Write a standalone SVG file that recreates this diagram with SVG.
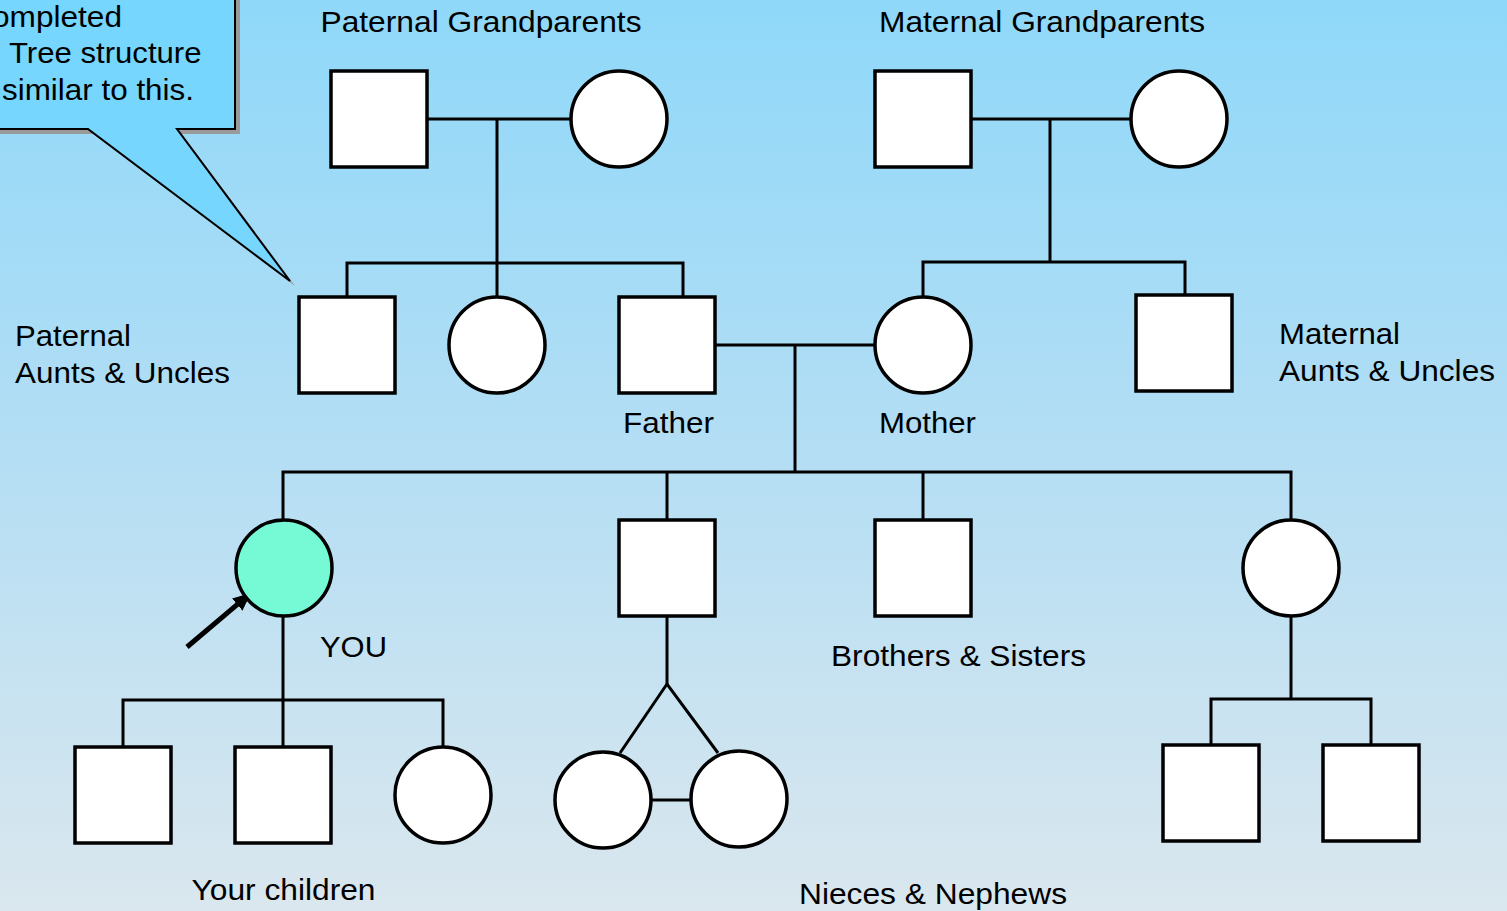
<svg xmlns="http://www.w3.org/2000/svg" width="1507" height="911" viewBox="0 0 1507 911">
<defs>
<linearGradient id="bg" x1="0" y1="0" x2="0" y2="1">
<stop offset="0" stop-color="#8fd8f9"/>
<stop offset="0.5" stop-color="#b4def4"/>
<stop offset="1" stop-color="#dae7ee"/>
</linearGradient>
<marker id="ah" viewBox="0 0 18 16" markerWidth="18" markerHeight="16" markerUnits="userSpaceOnUse" refX="3" refY="8" orient="auto">
<path d="M0,0 L18,8 L0,16 Z" fill="#000"/>
</marker>
<style>
.sq{fill:#fff;stroke:#000;stroke-width:3.5}
.ci{fill:#fff;stroke:#000;stroke-width:3.5}
.you{fill:#76fad5;stroke:#000;stroke-width:3.5}
.ln{fill:none;stroke:#000;stroke-width:3}
.t{font-family:"Liberation Sans",Arial,sans-serif;font-size:30px;fill:#000}
</style>
</defs>
<rect x="0" y="0" width="1507" height="911" fill="url(#bg)"/>

<g id="callout">
<path d="M-10,-10 H235 V129 H177 L290,281 L88,129 H-10 Z" fill="#9a9a9a" transform="translate(5,5)"/>
<path d="M-10,-10 H235 V129 H177 L290,281 L88,129 H-10 Z" fill="#76d6fe" stroke="#000" stroke-width="2"/>
<text class="t" x="-8" y="27" textLength="130" lengthAdjust="spacingAndGlyphs">ompleted</text>
<text class="t" x="9" y="63" textLength="192.5" lengthAdjust="spacingAndGlyphs">Tree structure</text>
<text class="t" x="2" y="100" textLength="192" lengthAdjust="spacingAndGlyphs">similar to this.</text>
</g>

<g id="connectors">
<path class="ln" d="M427,119 H571"/>
<path class="ln" d="M497,119 V297"/>
<path class="ln" d="M347,297 V263 H683 V297"/>
<path class="ln" d="M971,119 H1131"/>
<path class="ln" d="M1050,119 V262"/>
<path class="ln" d="M923,297 V262 H1185 V295"/>
<path class="ln" d="M715,345 H875"/>
<path class="ln" d="M795,345 V472"/>
<path class="ln" d="M283,520 V472 H1291 V520"/>
<path class="ln" d="M667,472 V520"/>
<path class="ln" d="M923,472 V520"/>
<path class="ln" d="M283,616 V747"/>
<path class="ln" d="M123,747 V700 H443 V747"/>
<path class="ln" d="M667,616 V684"/>
<path class="ln" d="M620,753 L667,684 L718,753"/>
<path class="ln" d="M651,800 H691"/>
<path class="ln" d="M1291,616 V699"/>
<path class="ln" d="M1211,745 V699 H1371 V745"/>
<line x1="187" y1="647" x2="239.5" y2="602.6" stroke="#000" stroke-width="5" marker-end="url(#ah)"/>
</g>

<g id="paternal-grandfather"><rect class="sq" x="331" y="71" width="96" height="96"/></g>
<g id="paternal-grandmother"><circle class="ci" cx="619" cy="119" r="48"/></g>
<g id="maternal-grandfather"><rect class="sq" x="875" y="71" width="96" height="96"/></g>
<g id="maternal-grandmother"><circle class="ci" cx="1179" cy="119" r="48"/></g>

<g id="paternal-uncle"><rect class="sq" x="299" y="297" width="96" height="96"/></g>
<g id="paternal-aunt"><circle class="ci" cx="497" cy="345" r="48"/></g>
<g id="father"><rect class="sq" x="619" y="297" width="96" height="96"/></g>
<g id="mother"><circle class="ci" cx="923" cy="345" r="48"/></g>
<g id="maternal-uncle"><rect class="sq" x="1136" y="295" width="96" height="96"/></g>

<g id="you"><circle class="you" cx="284" cy="568" r="48"/></g>
<g id="brother1"><rect class="sq" x="619" y="520" width="96" height="96"/></g>
<g id="brother2"><rect class="sq" x="875" y="520" width="96" height="96"/></g>
<g id="sister"><circle class="ci" cx="1291" cy="568" r="48"/></g>

<g id="child1"><rect class="sq" x="75" y="747" width="96" height="96"/></g>
<g id="child2"><rect class="sq" x="235" y="747" width="96" height="96"/></g>
<g id="child3"><circle class="ci" cx="443" cy="795" r="48"/></g>

<g id="twin1"><circle class="ci" cx="603" cy="800" r="48"/></g>
<g id="twin2"><circle class="ci" cx="739" cy="799" r="48"/></g>

<g id="nephew1"><rect class="sq" x="1163" y="745" width="96" height="96"/></g>
<g id="nephew2"><rect class="sq" x="1323" y="745" width="96" height="96"/></g>

<g id="labels">
<text class="t" x="320.5" y="32" textLength="321" lengthAdjust="spacingAndGlyphs">Paternal Grandparents</text>
<text class="t" x="879" y="32" textLength="326" lengthAdjust="spacingAndGlyphs">Maternal Grandparents</text>
<text class="t" x="15" y="346" textLength="116" lengthAdjust="spacingAndGlyphs">Paternal</text>
<text class="t" x="15" y="383" textLength="215" lengthAdjust="spacingAndGlyphs">Aunts &amp; Uncles</text>
<text class="t" x="1279" y="344" textLength="121" lengthAdjust="spacingAndGlyphs">Maternal</text>
<text class="t" x="1279" y="381" textLength="216" lengthAdjust="spacingAndGlyphs">Aunts &amp; Uncles</text>
<text class="t" x="623" y="433" textLength="91" lengthAdjust="spacingAndGlyphs">Father</text>
<text class="t" x="879" y="433" textLength="97" lengthAdjust="spacingAndGlyphs">Mother</text>
<text class="t" x="320" y="657" textLength="67" lengthAdjust="spacingAndGlyphs">YOU</text>
<text class="t" x="831" y="666" textLength="255" lengthAdjust="spacingAndGlyphs">Brothers &amp; Sisters</text>
<text class="t" x="191.5" y="900" textLength="184" lengthAdjust="spacingAndGlyphs">Your children</text>
<text class="t" x="799" y="904" textLength="268" lengthAdjust="spacingAndGlyphs">Nieces &amp; Nephews</text>
</g>
</svg>
